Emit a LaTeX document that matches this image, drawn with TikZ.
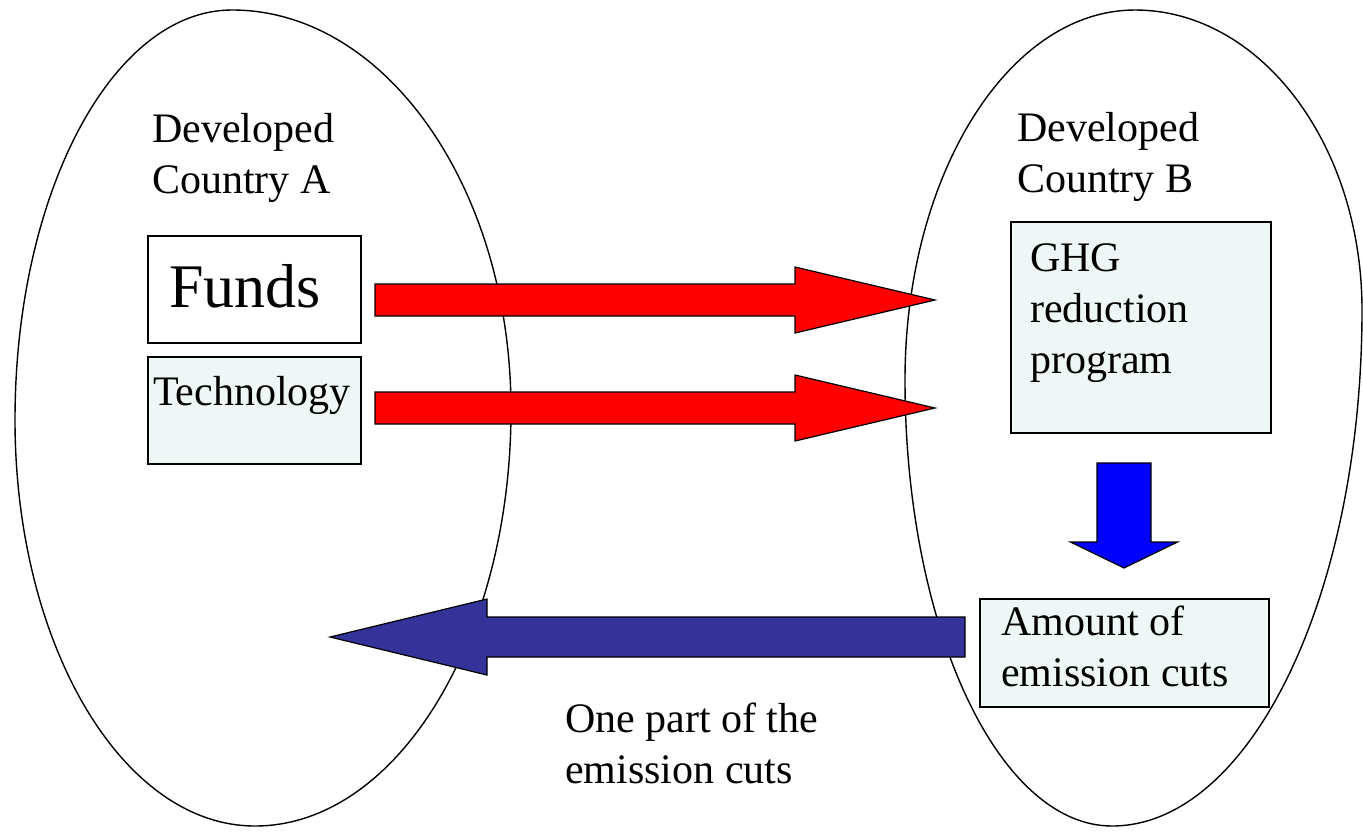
\documentclass[tikz,border=0pt]{standalone}
\usepackage{fontspec}
\setmainfont{Liberation Serif}
\newfontfamily\diagfont{Liberation Serif}
\definecolor{boxfill}{HTML}{EEF6F6}
\definecolor{arrowred}{HTML}{FF0000}
\definecolor{arrowblue}{HTML}{0000FF}
\definecolor{arrownavy}{HTML}{333399}
\tikzset{
	box/.style={draw,line width=1.6pt,anchor=north west,inner sep=0pt},
	txt/.style={anchor=north west,inner sep=0pt,align=left,font=\diagfont\fontsize{42}{51}\selectfont},
	blockarrow/.style={draw,line width=1.2pt,line join=miter},
}
\begin{document}
\begin{tikzpicture}[x=1pt,y=-1pt]
	\useasboundingbox (0,0) rectangle (1363,839);
	% the two countries
	\draw[line width=1.4pt] (232,10) .. controls (386,10) and (511,189) .. (511,410) .. controls (511,640) and (396,826) .. (255,826) .. controls (122,826) and (15,644) .. (15,420) .. controls (15,194) and (112,10) .. cycle;
	\draw[line width=1.4pt] (1135,10) .. controls (1260,10) and (1362,144) .. (1362,310) .. controls (1362,595) and (1250,826) .. (1112,826) .. controls (998,826) and (905,626) .. (905,380) .. controls (905,176) and (1008,10) .. cycle;
	\node[txt] (devA) at (152,113) {Developed\\Country A};
	\node[txt] (devB) at (1017,112) {Developed\\Country B};
	% boxes
	\node[box,fill=white,minimum width=213,minimum height=107] (funds) at (147,235) {};
	\node[box,fill=boxfill,minimum width=213,minimum height=107] (tech) at (147,356) {};
	\node[box,fill=boxfill,minimum width=260,minimum height=211] (ghg) at (1010,221) {};
	\node[box,fill=boxfill,minimum width=289,minimum height=108] (cuts) at (979,598) {};
	\node[txt,font=\diagfont\fontsize{62}{74}\selectfont] (fundstext) at (169,264) {Funds};
	\node[txt] (techtext) at (153,376) {Technology};
	\node[txt] (ghgtext) at (1030,243) {GHG\\reduction\\program};
	\node[txt] (cutstext) at (1001,606) {Amount of\\emission cuts};
	\node[txt] (parttext) at (565,703) {One part of the\\emission cuts};
	% arrows
	\coordinate (fundsout) at (375,300);
	\coordinate (fundsin) at (935,300);
	\coordinate (techout) at (375,408);
	\coordinate (techin) at (935,408);
	\coordinate (ghgout) at (1124,463);
	\coordinate (ghgin) at (1124,568);
	\coordinate (cutsout) at (965,637);
	\coordinate (cutsin) at (330,637);
	\draw[blockarrow,fill=arrowred] (fundsout) ++(0,-16) -- ++(420,0) -- ++(0,-17) -- (fundsin) -- ++(-140,33) -- ++(0,-17) -- ++(-420,0) -- cycle;
	\draw[blockarrow,fill=arrowred] (techout) ++(0,-16) -- ++(420,0) -- ++(0,-17) -- (techin) -- ++(-140,33) -- ++(0,-17) -- ++(-420,0) -- cycle;
	\draw[blockarrow,fill=arrowblue] (ghgout) ++(-27,0) -- ++(0,79) -- ++(-26.5,0) -- (ghgin) -- ++(53.5,-26) -- ++(-26.5,0) -- ++(0,-79) -- cycle;
	\draw[blockarrow,fill=arrownavy] (cutsout) ++(0,-20) -- ++(-478,0) -- ++(0,-18) -- (cutsin) -- ++(157,38) -- ++(0,-18) -- ++(478,0) -- cycle;
\end{tikzpicture}
\end{document}
